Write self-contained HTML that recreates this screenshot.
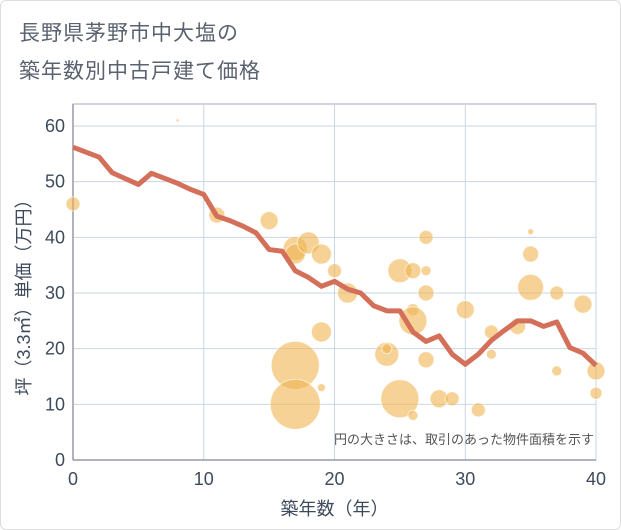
<!DOCTYPE html>
<html><head><meta charset="utf-8"><style>
body{margin:0;background:#fff}
#wrap{position:relative;width:621px;height:530px;background:#fff;font-family:"Liberation Sans","Noto Sans CJK JP",sans-serif;box-sizing:border-box;border:1px solid #ddd;border-radius:6px}
.title{position:absolute;left:18px;font-size:21px;color:#5a6270;letter-spacing:1px}
svg text{font-family:"Liberation Sans","Noto Sans CJK JP",sans-serif}
</style></head><body>
<div id="wrap">
<div class="title" style="top:16px">長野県茅野市中大塩の</div>
<div class="title" style="top:54px">築年数別中古戸建て価格</div>
<svg id="chart" width="621" height="530" style="position:absolute;left:-1px;top:-1px"></svg>
</div>
<script>
const xTicks=[0,10,20,30,40];
const yTicks=[0,10,20,30,40,50,60];
const lineYears=[0,2,3,5,6,7,8,9,10,11,12,13,14,15,16,17,18,19,20,21,22,23,24,25,26,27,28,29,30,31,32,33,34,35,36,37,38,39,40];
const lineValues=[56.2,54.4,51.6,49.5,51.5,50.6,49.7,48.6,47.7,43.8,43,42,40.8,37.8,37.5,34,32.8,31.2,32.1,30.7,30,27.7,26.8,26.8,23,21.3,22.3,19,17.2,19,21.5,23.3,25,25,24,24.8,20.2,19.2,17];
const bubbleX=[0,8,11,15,17,17,18,19,20,19,17,17,19,21,24,24,25,26,27,27,27,26,26,25,26,27,28,29,30,31,32,32,32,34,35,35,35,37,37,39,40,40];
const bubbleY=[46,61,44,43,38,37,39,37,34,23,17,10,13,30,19,20,34,34,34,40,30,27,25,11,8,18,11,11,27,9,23,19,40,24,41,37,31,30,16,28,16,12];
const bubbleR=[7,1.5,8,9,12,10,11,10,7,10,24,25,4,10,12,5,12,8,5,7,8,6,14,19,5,8,9,7,9,7,7,5,1,8,3,8,13,7,5,9,9,6];
const svg=document.getElementById('chart');
const NS='http://www.w3.org/2000/svg';
const X0=73,X1=596,Y0=460,Y1=126;
const xs=v=>X0+(X1-X0)*v/40;
const ys=v=>Y0-(Y0-Y1)*v/60;
function mk(t,a){const e=document.createElementNS(NS,t);for(const k in a)e.setAttribute(k,a[k]);svg.appendChild(e);return e;}
const frame=mk('rect',{x:X0,y:104,width:X1-X0,height:Y0-104,fill:'none',stroke:'#aab',"stroke-width":1});


yTicks.forEach(v=>{
 const g=mk('line',{x1:X0,x2:X1,y1:ys(v),y2:ys(v),stroke:'#c9d6e6',"stroke-width":1});
 
 
 const t=mk('text',{x:X0-8,y:ys(v)+6,"text-anchor":'end',"font-size":18,fill:'#3d4a5c'});t.textContent=v;
 
 
});
xTicks.forEach(v=>{
 const g=mk('line',{x1:xs(v),x2:xs(v),y1:104,y2:Y0,stroke:'#c9d6e6',"stroke-width":1});
 
 
 const t=mk('text',{x:xs(v),y:Y0+25,"text-anchor":'middle',"font-size":18,fill:'#3d4a5c'});t.textContent=v;
 
 
});
const ax=mk('line',{x1:X0,x2:X1,y1:Y0,y2:Y0,stroke:'#99a',"stroke-width":1.5});


const ay=mk('line',{x1:X0,x2:X0,y1:104,y2:Y0,stroke:'#99a',"stroke-width":1.5});


bubbleX.forEach((v,i)=>{
 const c=mk('circle',{cx:xs(v),cy:ys(bubbleY[i]),r:bubbleR[i],fill:'rgba(240,180,80,0.6)',stroke:'rgba(255,255,255,0.6)',"stroke-width":1});
 
 
});
const pl=mk('polyline',{points:lineYears.map((v,i)=>xs(v)+','+ys(lineValues[i])).join(' '),fill:'none',stroke:'#d4705a',"stroke-width":5,"stroke-linejoin":'round'});


const n=mk('text',{x:594,y:444,"text-anchor":'end',"font-size":13,fill:'#555'});n.textContent='円の大きさは、取引のあった物件面積を示す';


const xt=mk('text',{x:(X0+X1)/2,y:515,"text-anchor":'middle',"font-size":18,fill:'#3d4a5c'});xt.textContent='築年数（年）';


const yt=mk('text',{x:0,y:0,"text-anchor":'middle',"font-size":18,fill:'#3d4a5c',transform:'translate(30,293) rotate(-90)'});yt.textContent='坪（3.3㎡）単価（万円）';


</script>
</body></html>
